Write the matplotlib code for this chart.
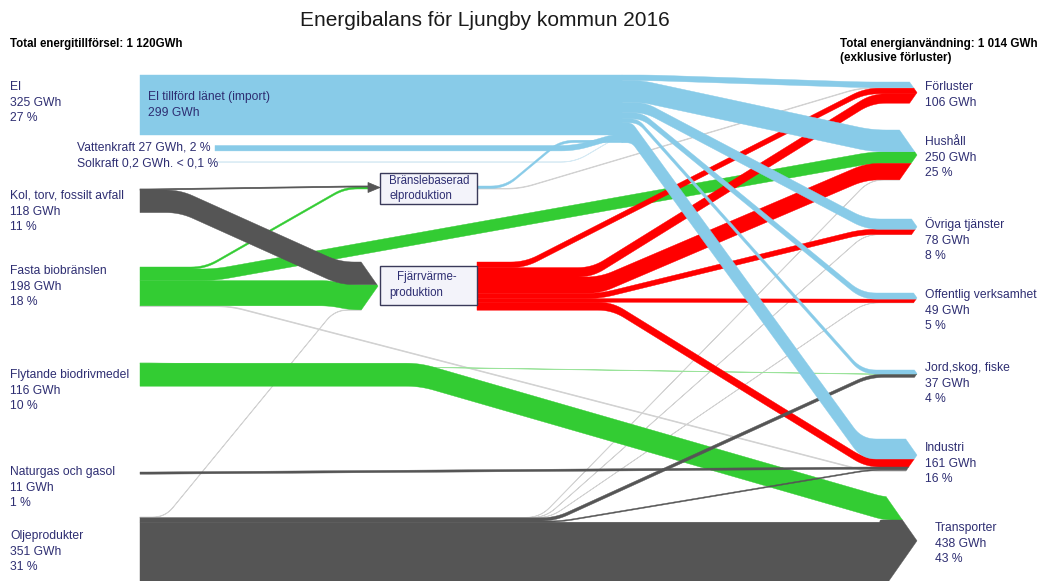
import matplotlib
matplotlib.use("Agg")
import matplotlib.pyplot as plt
from matplotlib.patches import Polygon, Rectangle
import numpy as np

plt.rcParams['font.family'] = ['Liberation Sans', 'DejaVu Sans']

# ---------------- data ----------------
title = "Energibalans för Ljungby kommun 2016"
total_supply_label = "Total energitillförsel: 1 120GWh"
total_use_label = "Total energianvändning: 1 014 GWh\n(exklusive förluster)"

source_names = ["El", "Kol, torv, fossilt avfall", "Fasta biobränslen",
                "Flytande biodrivmedel", "Naturgas och gasol", "Oljeprodukter"]
source_gwh = [325, 118, 198, 116, 11, 351]
source_pct = ["27 %", "11 %", "18 %", "10 %", "1 %", "31 %"]

sink_names = ["Förluster", "Hushåll", "Övriga tjänster", "Offentlig verksamhet",
              "Jord,skog, fiske", "Industri", "Transporter"]
sink_gwh = [106, 250, 78, 49, 37, 161, 438]
sink_pct = ["", "25 %", "8 %", "5 %", "4 %", "16 %", "43 %"]

el_import_gwh = 299
vattenkraft_gwh = 27
solkraft_gwh = 0.2

# flows: id, source node, target node, GWh (estimated from band widths)
flow_ids = ["imp", "vat", "sol", "be_el", "be_fl",
            "el_fl", "el_hu", "el_ov", "el_of", "el_jo", "el_in",
            "ko_be", "ko_fv",
            "fa_be", "fa_hu", "fa_fv", "fa_in",
            "fl_jo", "fl_tr",
            "ng_in",
            "ol_fv", "ol_hu", "ol_ov", "ol_of", "ol_jo", "ol_in", "ol_tr",
            "fv_fl1", "fv_fl2", "fv_hu", "fv_ov", "fv_of", "fv_in"]
flow_src = ["Import", "Vattenkraft", "Solkraft", "Bransle", "Bransle",
            "Hub", "Hub", "Hub", "Hub", "Hub", "Hub",
            "Kol", "Kol",
            "Fasta", "Fasta", "Fasta", "Fasta",
            "Flytande", "Flytande",
            "Naturgas",
            "Olja", "Olja", "Olja", "Olja", "Olja", "Olja", "Olja",
            "Fjv", "Fjv", "Fjv", "Fjv", "Fjv", "Fjv"]
flow_dst = ["Hub", "Hub", "Hub", "Hub", "Förluster",
            "Förluster", "Hushåll", "Övriga tjänster", "Offentlig verksamhet", "Jord,skog, fiske", "Industri",
            "Bransle", "Fjv",
            "Bransle", "Hushåll", "Fjv", "Industri",
            "Jord,skog, fiske", "Transporter",
            "Industri",
            "Fjv", "Hushåll", "Övriga tjänster", "Offentlig verksamhet", "Jord,skog, fiske", "Industri", "Transporter",
            "Förluster", "Förluster", "Hushåll", "Övriga tjänster", "Offentlig verksamhet", "Industri"]
flow_gwh = [el_import_gwh, vattenkraft_gwh, solkraft_gwh, 12, 3,
            28, 109, 51.5, 30.5, 20, 100,
            5, 113,
            10, 58, 126, 4,
            1, 115,
            11,
            2, 1, 0.5, 0.5, 16, 6, 323,
            28, 47, 82, 26, 18, 40]

# ---------------- layout / style ----------------
S = 0.2  # pixels per GWh
LBLUE, RED, GREEN, DGRAY, FAINT = '#88CBE8', '#FF0000', '#33CC33', '#555555', '#D2D2D2'
NAVY = '#2E2E72'
HUB_X = 622

out_x = {"Import": 140, "Vattenkraft": 215, "Solkraft": 215, "Kol": 140, "Fasta": 140,
         "Flytande": 140, "Naturgas": 140, "Olja": 140, "Hub": HUB_X, "Bransle": 477, "Fjv": 477}
out_top = {"Import": 75, "Vattenkraft": 145.5, "Solkraft": 162, "Kol": 189, "Fasta": 267,
           "Flytande": 363, "Naturgas": 472, "Olja": 517, "Hub": 75, "Bransle": 186, "Fjv": 262}
in_top = {"Hub": 75, "Bransle": 186, "Fjv": 262, "Förluster": 82, "Hushåll": 130,
          "Övriga tjänster": 219, "Offentlig verksamhet": 293, "Jord,skog, fiske": 370,
          "Industri": 439, "Transporter": 497}
in_order = {"Hub": ["imp", "vat", "sol", "be_el"],
            "Bransle": ["ko_be", "fa_be"],
            "Fjv": ["ko_fv", "fa_fv", "ol_fv"],
            "Förluster": ["el_fl", "be_fl", "fv_fl1", "fv_fl2"],
            "Hushåll": ["el_hu", "fa_hu", "fv_hu", "ol_hu"],
            "Övriga tjänster": ["el_ov", "fv_ov", "ol_ov"],
            "Offentlig verksamhet": ["el_of", "fv_of", "ol_of"],
            "Jord,skog, fiske": ["el_jo", "fl_jo", "ol_jo"],
            "Industri": ["el_in", "fv_in", "ng_in", "ol_in", "fa_in"],
            "Transporter": ["fl_tr", "ol_tr"]}
bends = {"imp": (610, 610), "vat": (575, 612), "sol": (575, 612), "be_el": (505, 560),
         "be_fl": (520, 860),
         "el_fl": (650, 862), "el_hu": (642, 872), "el_ov": (645, 866), "el_of": (642, 862),
         "el_jo": (638, 862), "el_in": (632, 862),
         "ko_be": (150, 355), "ko_fv": (180, 340),
         "fa_be": (205, 345), "fa_hu": (215, 872), "fa_fv": (330, 350), "fa_in": (230, 865),
         "fl_jo": (150, 870), "fl_tr": (420, 884),
         "ng_in": (150, 870),
         "ol_fv": (165, 335), "ol_hu": (540, 870), "ol_ov": (545, 865), "ol_of": (550, 865),
         "ol_jo": (555, 870), "ol_in": (560, 870), "ol_tr": (880, 880),
         "fv_fl1": (525, 865), "fv_fl2": (592, 872), "fv_hu": (600, 866), "fv_ov": (600, 862),
         "fv_of": (600, 862), "fv_in": (612, 866)}
faint = {"be_fl", "ol_fv", "ol_hu", "ol_ov", "ol_of", "fa_in"}
src_color = {"Import": LBLUE, "Vattenkraft": LBLUE, "Solkraft": LBLUE, "Hub": LBLUE,
             "Bransle": LBLUE, "Kol": DGRAY, "Fasta": GREEN, "Flytande": GREEN,
             "Naturgas": DGRAY, "Olja": DGRAY, "Fjv": RED}
zorder_of = {LBLUE: 6, RED: 4, GREEN: 3, DGRAY: 5, FAINT: 2}

TIP_X, K = 917, 0.7
FJV_TIP = 378

# ---------------- geometry ----------------
flows = {fid: dict(src=s, dst=d, v=v) for fid, s, d, v in zip(flow_ids, flow_src, flow_dst, flow_gwh)}

cur = dict(out_top)
for fid in flow_ids:
    f = flows[fid]
    f['y0'] = cur[f['src']]
    cur[f['src']] += f['v'] * S

in_total = {}
for node, ids in in_order.items():
    y = in_top[node]
    for fid in ids:
        flows[fid]['y1'] = y
        y += flows[fid]['v'] * S
    in_total[node] = y - in_top[node]


def rounded(pts, r=12, n=10):
    clean = [pts[0]]
    for p in pts[1:]:
        if abs(p[0] - clean[-1][0]) > 1e-6 or abs(p[1] - clean[-1][1]) > 1e-6:
            clean.append(p)
    pts = np.array(clean, float)
    out = [pts[0]]
    for i in range(1, len(pts) - 1):
        p0, p1, p2 = pts[i - 1], pts[i], pts[i + 1]
        d1, d2 = np.linalg.norm(p1 - p0), np.linalg.norm(p2 - p1)
        rr = min(r, d1 / 2, d2 / 2)
        a = p1 + (p0 - p1) / d1 * rr
        b = p1 + (p2 - p1) / d2 * rr
        for t in np.linspace(0, 1, n):
            out.append((1 - t) ** 2 * a + 2 * (1 - t) * t * p1 + t ** 2 * b)
    out.append(pts[-1])
    return np.array(out)


def end_x(node, y):
    if node == "Hub":
        return HUB_X
    if node == "Bransle":
        return 370
    mid = in_top[node] + in_total[node] / 2
    tip = FJV_TIP if node == "Fjv" else TIP_X
    return tip - K * abs(y - mid)


fig = plt.figure(figsize=(10.4, 5.81), dpi=100)
ax = fig.add_axes([0, 0, 1, 1])
ax.set_xlim(0, 1040)
ax.set_ylim(581, 0)
ax.axis('off')

for fid in flow_ids:
    f = flows[fid]
    w = f['v'] * S
    x0, y0, y1 = out_x[f['src']], f['y0'], f['y1']
    b1, b2 = bends[fid]
    dst = f['dst']
    xe_t, xe_b = end_x(dst, y1), end_x(dst, y1 + w)
    xe_ref = max(xe_t, xe_b)
    base = rounded([(x0, y0), (b1, y0), (b2, y1), (xe_ref, y1)], r=14)
    top = base.copy()
    top[:, 0] = np.minimum(top[:, 0], xe_t)
    bot = base.copy()
    bot[:, 1] += w
    bot[:, 0] = np.minimum(bot[:, 0], xe_b)
    mid_pts = []
    if dst not in ("Hub", "Bransle"):
        mid = in_top[dst] + in_total[dst] / 2
        if y1 < mid < y1 + w:
            mid_pts = [((FJV_TIP if dst == "Fjv" else TIP_X), mid)]
    poly = np.vstack([top] + ([np.array(mid_pts)] if mid_pts else []) + [bot[::-1]])
    col = FAINT if fid in faint else src_color[f['src']]
    if fid == "fl_jo":
        col = '#9BE39B'
    if fid == "sol":
        col = '#D6EAF4'
    lw = 0.55 if w < 1.2 else 0.3
    ax.add_patch(Polygon(poly, closed=True, facecolor=col, edgecolor=col, lw=lw,
                         zorder=zorder_of.get(col, 3), joinstyle='round'))

# arrowhead into Bränslebaserad elproduktion
ax.add_patch(Polygon([(368, 182.5), (380, 187.5), (368, 192.5)], closed=True,
                     facecolor=DGRAY, edgecolor=DGRAY, lw=0.5, zorder=7))

# boxes
ax.add_patch(Rectangle((380, 173), 97, 31, facecolor='#F3F3FA', edgecolor='#3A3A5A',
                       lw=1.0, zorder=8))
ax.add_patch(Rectangle((380, 266), 97, 39, facecolor='#F3F3FA', edgecolor='#3A3A5A',
                       lw=1.0, zorder=8))
FS = 8.7
BFS = 8.3
ax.text(389, 181, "Bränslebaserad", color=NAVY, fontsize=BFS, va='center', ha='left', zorder=9)
ax.text(389, 196, "elproduktion", color=NAVY, fontsize=BFS, va='center', ha='left', zorder=9)
ax.text(397, 277, "Fjärrvärme-", color=NAVY, fontsize=BFS, va='center', ha='left', zorder=9)
ax.text(389, 293, "produktion", color=NAVY, fontsize=BFS, va='center', ha='left', zorder=9)

# texts
ax.text(485, 20, title, fontsize=15, color='#1a1a1a', ha='center', va='center')
ax.text(10, 44, total_supply_label, fontsize=8.3, fontweight='bold', color='black',
        ha='left', va='center')
ax.text(840, 38, total_use_label, fontsize=8.4, fontweight='bold', color='black',
        ha='left', va='top', linespacing=1.2)

LS = 1.4
src_label_top = [81, 190, 265, 369, 466, 530]
for name, g, p, yt in zip(source_names, source_gwh, source_pct, src_label_top):
    ax.text(10, yt, f"{name}\n{g} GWh\n{p}", fontsize=FS, color=NAVY, ha='left', va='top',
            linespacing=LS, zorder=9)

ax.text(148, 91, f"El tillförd länet (import)\n{el_import_gwh} GWh", fontsize=FS,
        color=NAVY, ha='left', va='top', linespacing=LS, zorder=9)
ax.text(77, 148, f"Vattenkraft {vattenkraft_gwh} GWh, 2 %", fontsize=FS, color=NAVY,
        ha='left', va='center', zorder=9)
ax.text(77, 164, f"Solkraft {str(solkraft_gwh).replace('.', ',')} GWh. < 0,1 %", fontsize=FS,
        color=NAVY, ha='left', va='center', zorder=9)

sink_label_top = [81, 136, 217, 289, 362, 442, 522]
sink_label_x = [925, 925, 925, 925, 925, 925, 935]
for name, g, p, yt, xl in zip(sink_names, sink_gwh, sink_pct, sink_label_top, sink_label_x):
    txt = f"{name}\n{g} GWh" + (f"\n{p}" if p else "")
    ax.text(xl, yt, txt, fontsize=FS, color=NAVY, ha='left', va='top',
            linespacing=LS, zorder=9)

fig.savefig("out.png", dpi=100, facecolor='white')
